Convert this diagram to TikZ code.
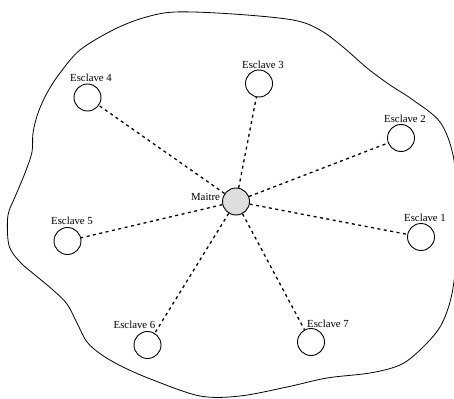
\documentclass[tikz,border=0pt]{standalone}
\usepackage{fontspec}
\setmainfont{Liberation Serif}
\begin{document}
\begin{tikzpicture}[x=1pt,y=-1pt,
  slave/.style={circle,draw,line width=0.9pt,minimum size=27pt,inner sep=0pt,fill=white},
  master/.style={circle,draw,line width=0.9pt,minimum size=27pt,inner sep=0pt,fill=black!13},
  lbl/.style={font=\fontsize{10.8}{12}\selectfont,inner sep=0pt},
  link/.style={line width=1.3pt,dash pattern=on 3pt off 3.5pt}]
\useasboundingbox (0,0) rectangle (454,398);
\begin{scope}
\clip (0,0) rectangle (454,398);
\draw[line width=0.8pt] plot[smooth cycle,tension=0.55] coordinates {
 (33,133) (32,152) (25,173) (15,197) (8,215) (8,240) (12,252) (22,264) (35,275)
 (53,290) (67,304) (77,323) (87,342) (102,355) (123,367) (153,380) (200,396)
 (240,396) (287,387) (327,378) (370,373) (400,365) (420,350) (440,327) (451,298)
 (456,260) (457,200) (453,155) (440,122) (413,100) (390,85) (367,68) (343,47)
 (320,30) (293,20) (233,14) (175,12) (143,18) (113,30) (80,50) (60,73) (47,93)
 (38,113) };
\end{scope}
\node[master] (m) at (236,201.5) {};
\node[slave] (s1) at (421,237) {};
\node[slave] (s2) at (401,138) {};
\node[slave] (s3) at (259,83.5) {};
\node[slave] (s4) at (87.5,97.5) {};
\node[slave] (s5) at (67.5,241) {};
\node[slave] (s6) at (147.5,345) {};
\node[slave] (s7) at (311,342) {};
\node[lbl] (lm) at (205.5,197) {Maitre};
\node[lbl] (l1) at (425,218) {Esclave 1};
\node[lbl] (l2) at (405,119) {Esclave 2};
\node[lbl] (l3) at (263,65) {Esclave 3};
\node[lbl] (l4) at (91,78) {Esclave 4};
\node[lbl] (l5) at (72,221) {Esclave 5};
\node[lbl] (l6) at (134.5,325) {Esclave 6};
\node[lbl] (l7) at (328,324) {Esclave 7};
\foreach \i in {1,...,7} {\draw[link] (m) -- (s\i);}
\end{tikzpicture}
\end{document}
